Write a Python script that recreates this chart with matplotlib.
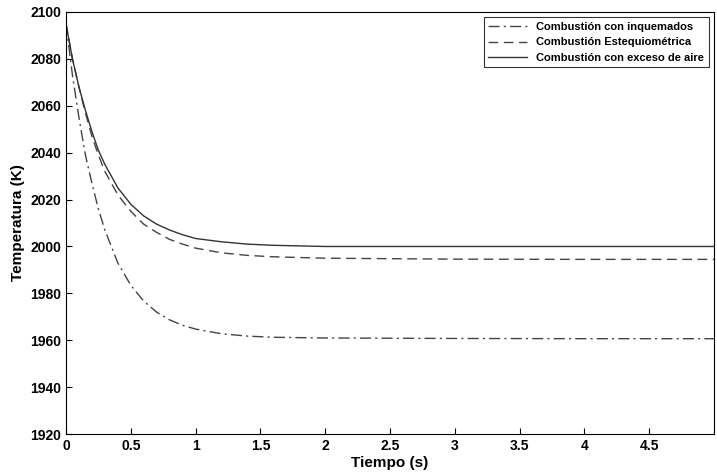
import matplotlib
matplotlib.use("Agg")
import matplotlib.pyplot as plt

# tiempo (s) and temperatures (K)
t = [0, 0.05, 0.1, 0.15, 0.2, 0.25, 0.3, 0.4, 0.5, 0.6, 0.7, 0.8, 0.9, 1.0, 1.2, 1.4, 1.6, 2.0, 3.0, 4.0, 5.0]
temp_inquemados = [2095, 2073, 2055, 2039, 2027, 2016, 2007, 1993, 1983.5, 1976.7, 1972, 1968.7, 1966.4, 1964.8,
                   1962.8, 1961.8, 1961.3, 1961, 1960.8, 1960.7, 1960.7]
temp_esteq = [2095, 2080, 2068, 2057, 2047, 2039, 2032, 2022, 2015, 2009.5, 2006, 2003, 2001, 1999.3,
              1997.3, 1996.2, 1995.6, 1995, 1994.6, 1994.5, 1994.5]
temp_exceso = [2095, 2080, 2068, 2058, 2049, 2041, 2035, 2025, 2018, 2013, 2009.5, 2007, 2005, 2003.4,
               2002, 2001, 2000.5, 2000, 2000, 2000, 2000]

plt.rcParams['font.family'] = ['Liberation Sans', 'DejaVu Sans']
plt.rcParams['font.weight'] = 'bold'

fig = plt.figure(figsize=(7.17, 4.74), dpi=100)
ax = fig.add_axes([0.092, 0.084, 0.904, 0.891])
ax.plot(t, temp_inquemados, color='#444444', linestyle=(0, (8, 3, 1.5, 3)), linewidth=1,
        label='Combustión con inquemados')
ax.plot(t, temp_esteq, color='#444444', linestyle=(0, (7, 4)), linewidth=1, label='Combustión Estequiométrica')
ax.plot(t, temp_exceso, color='#333333', linestyle='-', linewidth=1, label='Combustión con exceso de aire')

ax.set_xlim(0, 5)
ax.set_ylim(1920, 2100)
ax.set_xticks([0, 0.5, 1, 1.5, 2, 2.5, 3, 3.5, 4, 4.5])
ax.set_xticklabels(['0', '0.5', '1', '1.5', '2', '2.5', '3', '3.5', '4', '4.5'])
ax.set_yticks(range(1920, 2101, 20))
ax.tick_params(direction='in', labelsize=10, length=4)
ax.set_xlabel('Tiempo (s)', fontsize=11, fontweight='bold', labelpad=2)
ax.set_ylabel('Temperatura (K)', fontsize=11, fontweight='bold')
leg = ax.legend(loc='upper right', fontsize=8, frameon=True, fancybox=False, edgecolor='black',
                handlelength=3.5)
leg.get_frame().set_linewidth(0.8)

fig.savefig('out.png', dpi=100)
